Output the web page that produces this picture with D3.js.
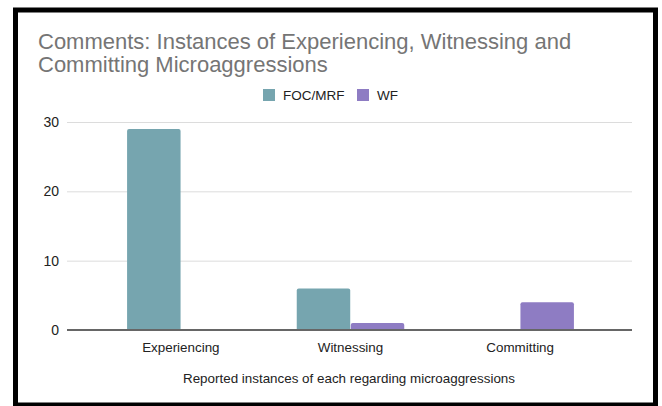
<!DOCTYPE html>
<html>
<head>
<meta charset="utf-8">
<script src="https://cdn.jsdelivr.net/npm/d3@7"></script>
<style>
  body { margin: 0; background: #fff; }
  svg text { font-family: "Liberation Sans", Arial, sans-serif; }
</style>
</head>
<body>
<script>
// data
var categorias = ["Experiencing", "Witnessing", "Committing"];
var series = ["FOC/MRF", "WF"];
var valoresFOC = [29, 6, 0];
var valoresWF = [0, 1, 4];
var ticksY = [0, 10, 20, 30];
var colores = ["#76a5af", "#8e7cc3"];

var W = 662, H = 406;

var svg = d3.select("body").append("svg")
  .attr("width", W)
  .attr("height", H);

// frame
svg.append("rect")
  .attr("x", 15.5).attr("y", 10)
  .attr("width", 640).attr("height", 395)
  .attr("fill", "#fff")
  .attr("stroke", "#000")
  .attr("stroke-width", 5);

// title
var titulo = svg.append("text")
  .attr("x", 38).attr("y", 49)
  .attr("fill", "#757575")
  .style("font-size", "22px");
titulo.append("tspan").attr("x", 38).text("Comments: Instances of Experiencing, Witnessing and");
titulo.append("tspan").attr("x", 38).attr("dy", 23).text("Committing Microaggressions");

// legend
var leyX = [263, 357];
series.forEach(function(s, i) {
  svg.append("rect")
    .attr("x", leyX[i]).attr("y", 89)
    .attr("width", 12).attr("height", 12)
    .attr("fill", colores[i]);
  svg.append("text")
    .attr("x", leyX[i] + 20).attr("y", 100)
    .attr("fill", "#222")
    .style("font-size", "13.5px")
    .text(s);
});

// scales
var y = d3.scaleLinear().domain([0, 30]).range([330, 122]);
var x0 = d3.scaleBand().domain(categorias).range([96, 605])
  .paddingInner(0.36).paddingOuter(0.18);
var x1 = d3.scaleBand().domain(series).range([0, x0.bandwidth()]).padding(0.01);

// gridlines + y labels
var ejeY = svg.append("g")
  .call(d3.axisLeft(y).tickValues(ticksY).tickSize(-(632 - 67)).tickPadding(8))
  .attr("transform", "translate(67,0)");
ejeY.select(".domain").remove();
ejeY.selectAll(".tick line").attr("stroke", "#dcdcdc");
ejeY.selectAll(".tick text")
  .attr("fill", "#222")
  .style("font-size", "14px")
  .style("font-family", "Liberation Sans, Arial, sans-serif");

// bars
var datos = categorias.map(function(c, i) {
  return { cat: c, vals: [valoresFOC[i], valoresWF[i]] };
});
var grupos = svg.selectAll(".grupo")
  .data(datos).enter().append("g")
  .attr("transform", function(d) { return "translate(" + x0(d.cat) + ",0)"; });
grupos.selectAll("path")
  .data(function(d) { return d.vals.map(function(v, i) { return { s: series[i], v: v, i: i }; }); })
  .enter().filter(function(d) { return d.v > 0; })
  .append("path")
  .attr("fill", function(d) { return colores[d.i]; })
  .attr("d", function(d) {
    var bx = x1(d.s), bw = x1.bandwidth(), top = y(d.v), bot = y(0), r = 2;
    return "M" + bx + "," + bot + "V" + (top + r) + "Q" + bx + "," + top + " " + (bx + r) + "," + top +
      "H" + (bx + bw - r) + "Q" + (bx + bw) + "," + top + " " + (bx + bw) + "," + (top + r) + "V" + bot + "Z";
  });

// baseline
svg.append("line")
  .attr("x1", 67).attr("x2", 632)
  .attr("y1", y(0)).attr("y2", y(0))
  .attr("stroke", "#666").attr("stroke-width", 2);

// x labels
var ejeX = svg.append("g")
  .attr("transform", "translate(0," + y(0) + ")")
  .call(d3.axisBottom(x0).tickSize(0).tickPadding(12));
ejeX.select(".domain").remove();
ejeX.selectAll(".tick text")
  .attr("fill", "#222")
  .style("font-size", "13.4px")
  .style("font-family", "Liberation Sans, Arial, sans-serif");

// axis title
svg.append("text")
  .attr("x", 349).attr("y", 383)
  .attr("text-anchor", "middle")
  .attr("fill", "#222")
  .style("font-size", "13.4px")
  .text("Reported instances of each regarding microaggressions");
</script>
</body>
</html>
